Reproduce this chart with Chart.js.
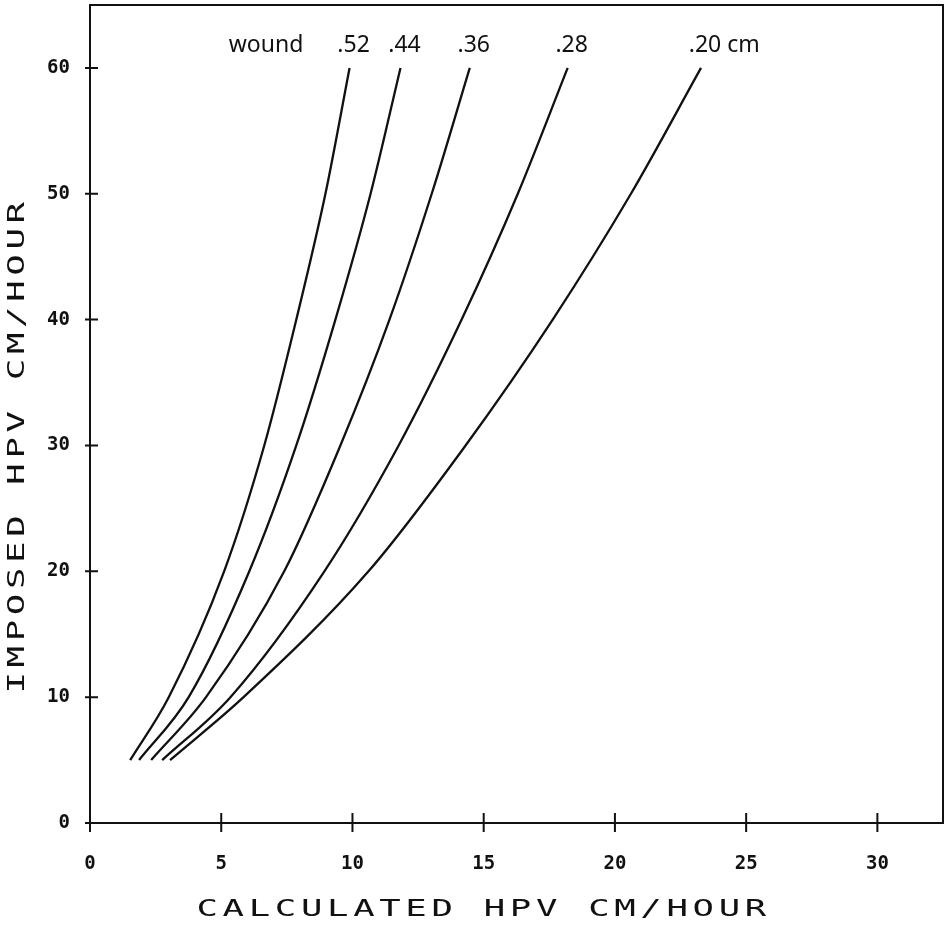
<!DOCTYPE html>
<html>
<head>
<meta charset="utf-8">
<script src="https://cdn.jsdelivr.net/npm/chart.js@4/dist/chart.umd.min.js"></script>
<style>
  html, body { margin: 0; padding: 0; background: #fff; }
  canvas { display: block; }
</style>
</head>
<body>
<canvas id="grafico" width="949" height="928"></canvas>
<script>
// imposed HPV levels (cm/hour) where each curve was read
const imposedHPV = [5, 10, 20, 30, 40, 50, 60];

// calculated HPV (cm/hour) for each wound width
const wound052 = [1.53, 3.00, 5.11, 6.64, 7.86, 8.97, 9.89];
const wound044 = [1.87, 3.76, 6.07, 7.86, 9.35, 10.69, 11.83];
const wound036 = [2.33, 4.42, 7.40, 9.54, 11.41, 13.02, 14.47];
const wound028 = [2.75, 5.35, 8.93, 11.76, 14.16, 16.30, 18.20];
const wound020 = [3.05, 5.85, 10.61, 14.31, 17.63, 20.61, 23.28];

const woundLabels = ['.52', '.44', '.36', '.28', '.20'];
const woundUnit = 'cm';
const woundTitle = 'wound';

const xTitle = 'CALCULATED HPV CM/HOUR';
const yTitle = 'IMPOSED HPV CM/HOUR';

const ink = '#111';

function puntos(valores) {
  return valores.map((v, i) => ({ x: v, y: imposedHPV[i] }));
}

// box, tick crosses, curve labels and axis titles
const marcoPlugin = {
  id: 'marco',
  afterDraw(chart) {
    const { ctx, chartArea: a, scales } = chart;
    const x = scales.x, y = scales.y;
    ctx.save();
    ctx.strokeStyle = ink;
    ctx.lineWidth = 2;
    ctx.strokeRect(a.left, a.top, a.width, a.height);

    ctx.beginPath();
    x.ticks.forEach(t => {
      const px = x.getPixelForValue(t.value);
      ctx.moveTo(px, a.bottom - 10);
      ctx.lineTo(px, a.bottom + 9);
    });
    y.ticks.forEach(t => {
      const py = y.getPixelForValue(t.value);
      ctx.moveTo(a.left - 5, py);
      ctx.lineTo(a.left + 8, py);
    });
    ctx.stroke();

    // labels at the top of each curve
    ctx.fillStyle = ink;
    ctx.font = '23px "Noto Sans"';
    ctx.textAlign = 'left';
    ctx.textBaseline = 'alphabetic';
    let primerX = null, primerY = null;
    chart.data.datasets.forEach((ds, i) => {
      const meta = chart.getDatasetMeta(i);
      const ultimo = meta.data[meta.data.length - 1];
      const num = woundLabels[i];
      const w = ctx.measureText(num).width;
      const texto = i === woundLabels.length - 1 ? num + ' ' + woundUnit : num;
      const lx = ultimo.x + 4 - w / 2;
      const ly = ultimo.y - 16;
      ctx.fillText(texto, lx, ly);
      if (i === 0) { primerX = lx; primerY = ly; }
    });
    ctx.textAlign = 'right';
    ctx.fillText(woundTitle, primerX - 34, primerY);

    // axis titles, plotter style
    ctx.font = '23px "DejaVu Sans Mono"';
    ctx.letterSpacing = '3px';
    ctx.textAlign = 'center';
    ctx.textBaseline = 'middle';

    ctx.save();
    ctx.translate(x.getPixelForValue(15), 910);
    ctx.scale(1.55, 1);
    ctx.fillText(xTitle, 0, 0);
    ctx.restore();

    ctx.save();
    ctx.translate(18, y.getPixelForValue(30));
    ctx.rotate(-Math.PI / 2);
    ctx.scale(1.55, 1);
    ctx.fillText(yTitle, 0, 0);
    ctx.restore();

    ctx.restore();
  }
};

const series = [wound052, wound044, wound036, wound028, wound020];

new Chart(document.getElementById('grafico'), {
  type: 'scatter',
  data: {
    datasets: series.map((s, i) => ({
      label: woundLabels[i],
      data: puntos(s),
      showLine: true,
      borderColor: ink,
      borderWidth: 2.3,
      pointRadius: 0,
      cubicInterpolationMode: 'monotone',
      fill: false
    }))
  },
  options: {
    responsive: false,
    animation: false,
    devicePixelRatio: 1,
    layout: { padding: { top: 5, right: 6, left: 0, bottom: 0 } },
    plugins: {
      legend: { display: false },
      tooltip: { enabled: false }
    },
    scales: {
      x: {
        type: 'linear',
        min: 0,
        max: 32.5,
        afterFit: scale => {
          scale.height = 105;
          scale.paddingLeft = 0;
          scale.paddingRight = 0;
        },
        grid: { display: false, drawTicks: false },
        border: { display: false },
        ticks: {
          stepSize: 5,
          includeBounds: false,
          padding: 30,
          color: ink,
          font: { family: 'DejaVu Sans Mono', size: 19, weight: 'bold' }
        }
      },
      y: {
        type: 'linear',
        min: 0,
        max: 65,
        afterFit: scale => {
          scale.width = 90;
          scale.paddingTop = 0;
          scale.paddingBottom = 0;
        },
        grid: { display: false, drawTicks: false },
        border: { display: false },
        ticks: {
          stepSize: 10,
          includeBounds: false,
          padding: 20,
          color: ink,
          font: { family: 'DejaVu Sans Mono', size: 19, weight: 'bold' }
        }
      }
    }
  },
  plugins: [marcoPlugin]
});
</script>
</body>
</html>
